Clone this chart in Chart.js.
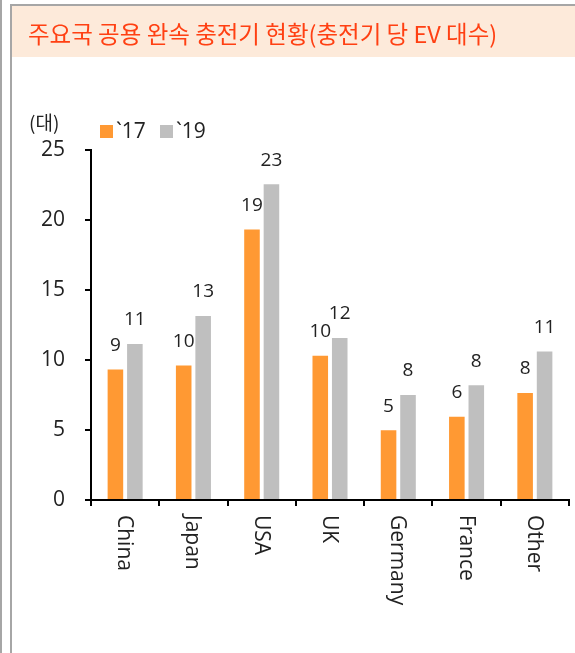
<!DOCTYPE html>
<html><head><meta charset="utf-8">
<script src="https://cdn.jsdelivr.net/npm/chart.js@4/dist/chart.umd.min.js"></script>
<style>html,body{margin:0;padding:0;background:#fff;}#wrap{position:absolute;left:0;top:0;width:575px;height:653px;}</style>
</head><body><div id="wrap"><canvas id="c" width="575" height="653"></canvas></div>
<script>
const titleText = '주요국 공용 완속 충전기 현황(충전기 당 EV 대수)';
const unitText = '(대)';
const categories = ['China','Japan','USA','UK','Germany','France','Other'];
const seriesNames = ['`17','`19'];
const values17 = [9.33, 9.6, 19.33, 10.31, 4.98, 5.95, 7.64];
const values19 = [11.14, 13.14, 22.55, 11.57, 7.5, 8.19, 10.6];
const yTicks = [0,5,10,15,20,25];
const colors = ['#FF9933','#BFBFBF'];
const LATIN = '"Open Sans", "Noto Sans", sans-serif';
const KR = '"Noto Sans CJK KR", sans-serif';

const decor = {
  id: 'decor',
  beforeDraw(chart) {
    const ctx = chart.ctx;
    ctx.save();
    ctx.fillStyle = '#fff'; ctx.fillRect(0,0,575,653);
    ctx.fillStyle = '#FDEADA'; ctx.fillRect(12,6,563,51);
    ctx.fillStyle = '#A6A6A6';
    ctx.fillRect(0,0,2,653);
    ctx.fillRect(10,4,2,649);
    ctx.fillRect(10,4,565,2);
    ctx.fillStyle = '#FF4013';
    ctx.font = '23.5px ' + KR;
    ctx.textBaseline = 'middle'; ctx.textAlign = 'left';
    ctx.fillText(titleText, 28, 34);
    ctx.fillStyle = '#222';
    ctx.font = '19px ' + KR;
    ctx.fillText(unitText, 29, 123);
    // legend
    const lx = [100, 160];
    ctx.font = '21px ' + LATIN;
    seriesNames.forEach((n,i)=>{
      ctx.fillStyle = colors[i];
      ctx.fillRect(lx[i],125,13,13);
      ctx.fillStyle = '#222';
      ctx.fillText(n, lx[i]+16, 132);
    });
    ctx.restore();
  },
  afterDatasetsDraw(chart) {
    const ctx = chart.ctx;
    ctx.save();
    ctx.fillStyle = '#222';
    ctx.font = '19px ' + LATIN;
    ctx.textAlign = 'center'; ctx.textBaseline = 'middle';
    chart.data.datasets.forEach((ds, di) => {
      chart.getDatasetMeta(di).data.forEach((bar, i) => {
        ctx.fillText(String(Math.round(ds.data[i])), bar.x, bar.y - 24);
      });
    });
    const xs = chart.scales.x;
    ctx.font = '21px ' + LATIN;
    ctx.textAlign = 'left';
    categories.forEach((c, i) => {
      const x = xs.getPixelForValue(i) - 1;
      ctx.save();
      ctx.translate(x, 515);
      ctx.rotate(Math.PI/2);
      ctx.fillText(c, 0, 0);
      ctx.restore();
    });
    ctx.restore();
  }
};

new Chart(document.getElementById('c'), {
  type: 'bar',
  data: {
    labels: categories,
    datasets: [
      {label: seriesNames[0], data: values17, backgroundColor: colors[0], categoryPercentage: 0.57, barPercentage: 0.8},
      {label: seriesNames[1], data: values19, backgroundColor: colors[1], categoryPercentage: 0.57, barPercentage: 0.8}
    ]
  },
  options: {
    responsive: false, animation: false, devicePixelRatio: 1,
    layout: {padding: {left: 0, right: 6, top: 150, bottom: 0}},
    plugins: {legend: {display: false}, title: {display: false}, tooltip: {enabled: false}},
    scales: {
      x: {
        grid: {display: true, drawOnChartArea: false, tickLength: 6, color: '#000', lineWidth: 2},
        border: {color: '#000', width: 2},
        ticks: {display: false},
        afterFit(s) { s.height = 153; }
      },
      y: {
        min: 0, max: 25,
        afterBuildTicks(s) { s.ticks = yTicks.map(v => ({value: v})); },
        grid: {display: true, drawOnChartArea: false, tickLength: 6, color: '#000', lineWidth: 2},
        border: {color: '#000', width: 2},
        ticks: {font: {size: 21, family: LATIN}, color: '#222', padding: 20},
        afterFit(s) { s.width = 91; }
      }
    }
  },
  plugins: [decor]
});
</script></body></html>
